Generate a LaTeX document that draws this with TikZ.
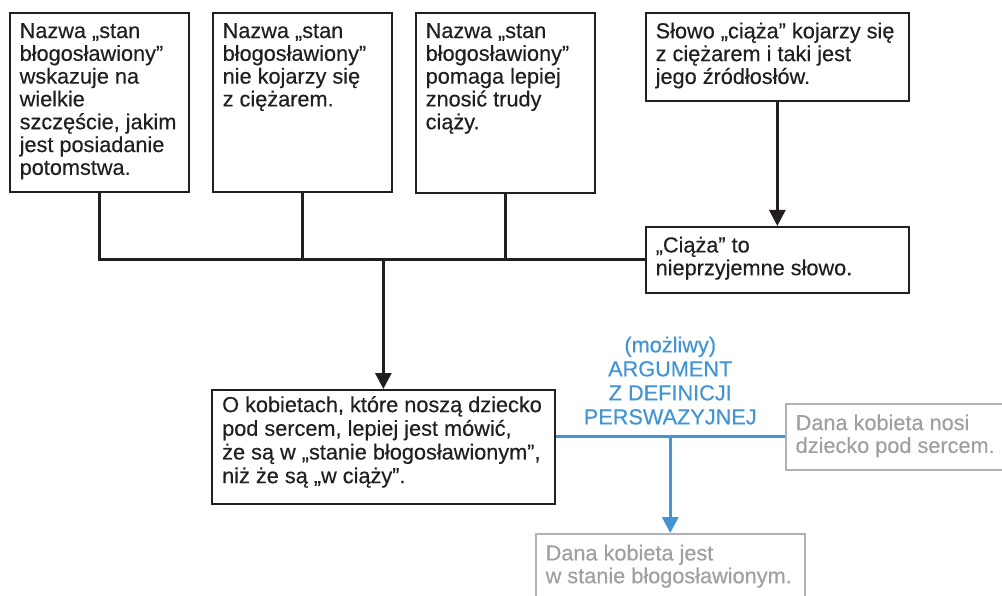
\documentclass[tikz,border=0pt]{standalone}
\usepackage{fontspec}
\setmainfont{Liberation Sans}[FakeBold=0.35,AutoFakeBold=0.35]
\usetikzlibrary{arrows.meta,calc}
\definecolor{ink}{RGB}{35,31,32}
\definecolor{argblue}{RGB}{66,148,210}
\definecolor{softgrey}{RGB}{160,160,164}
\definecolor{framegrey}{RGB}{178,178,180}

\begin{document}
\begin{tikzpicture}[x=1pt,y=-1pt,
  frame/.style={draw=ink, line width=1.7pt, rectangle, inner sep=0pt, anchor=north west},
  greyframe/.style={frame, draw=framegrey, line width=1.5pt},
  txt/.style={anchor=north west, inner sep=0pt, align=left, text=ink,
              font=\fontsize{21.7}{22.8}\selectfont\bfseries},
  widetxt/.style={txt, font=\fontsize{21.7}{23.7}\selectfont\bfseries},
  greytxt/.style={txt, text=softgrey},
  bluetxt/.style={txt, text=argblue, align=center, anchor=south,
              font=\fontsize{21.7}{24}\selectfont\bfseries},
  link/.style={draw=ink, line width=2.8pt},
  arrow/.style={link, -{Triangle[width=16pt,length=16pt]}},
  bluelink/.style={draw=argblue, line width=3.2pt},
  bluearrow/.style={bluelink, -{Triangle[width=16pt,length=16pt]}},
]
\clip (0,0) rectangle (1002,596);
\fill[white] (0,0) rectangle (1002,596);

% premises in the top row
\node[frame, minimum width=179pt, minimum height=179pt] (b1) at (9,12) {};
\node[frame, minimum width=179pt, minimum height=179pt] (b2) at (212,12) {};
\node[frame, minimum width=179pt, minimum height=180pt] (b3) at (415,12) {};
\node[frame, minimum width=263pt, minimum height=88pt]  (b4) at (645,12) {};
\node[frame, minimum width=263pt, minimum height=66pt]  (b5) at (645,226) {};
% conclusion
\node[frame, minimum width=343pt, minimum height=114pt] (b6) at (211,389) {};
% the possible argument
\node[greyframe, minimum width=230pt, minimum height=66pt] (g1) at (785,403) {};
\node[greyframe, minimum width=269pt, minimum height=80pt] (g2) at (535,533) {};

\node[txt] (t1) at ([shift={(10.5,10.9)}]b1.north west)
  {Nazwa „stan\\błogosławiony”\\wskazuje na\\wielkie\\szczęście, jakim\\jest posiadanie\\potomstwa.};
\node[txt] (t2) at ([shift={(10.5,10.9)}]b2.north west)
  {Nazwa „stan\\błogosławiony”\\nie kojarzy się\\z ciężarem.};
\node[txt] (t3) at ([shift={(10.5,10.9)}]b3.north west)
  {Nazwa „stan\\błogosławiony”\\pomaga lepiej\\znosić trudy\\ciąży.};
\node[txt] (t4) at ([shift={(10.5,10.4)}]b4.north west)
  {Słowo „ciąża” kojarzy się\\z ciężarem i taki jest\\jego źródłosłów.};
\node[txt] (t5) at ([shift={(10.5,10.5)}]b5.north west)
  {„Ciąża” to\\nieprzyjemne słowo.};
\node[widetxt] (t6) at ([shift={(11,6.9)}]b6.north west)
  {O kobietach, które noszą dziecko\\pod sercem, lepiej jest mówić,\\że są w „stanie błogosławionym”,\\niż że są „w ciąży”.};
\node[greytxt] (tg1) at ([shift={(10.5,11.2)}]g1.north west)
  {Dana kobieta nosi\\dziecko pod sercem.};
\node[greytxt] (tg2) at ([shift={(10.5,11.5)}]g2.north west)
  {Dana kobieta jest\\w stanie błogosławionym.};

% connectors of the premises
\draw[link] (b1.south) |- (b5.west);
\draw[link] (b2.south) -- (b2.south |- b5.west);
\draw[link] (b3.south) -- (b3.south |- b5.west);
\draw[arrow] (b4.south) -- (b5.north);
\draw[arrow] (b6.north |- b5.west) -- (b6.north);

% the argument from persuasive definition
\coordinate (fork) at (g1.west -| g2.north);
\draw[bluelink] (g1.west) -- (g1.west -| b6.east);
\draw[bluearrow] (fork) -- (g2.north);
\node[bluetxt] (lbl) at ([yshift=12pt]fork)
  {(możliwy)\\ARGUMENT\\Z DEFINICJI\\PERSWAZYJNEJ};
\end{tikzpicture}
\end{document}
